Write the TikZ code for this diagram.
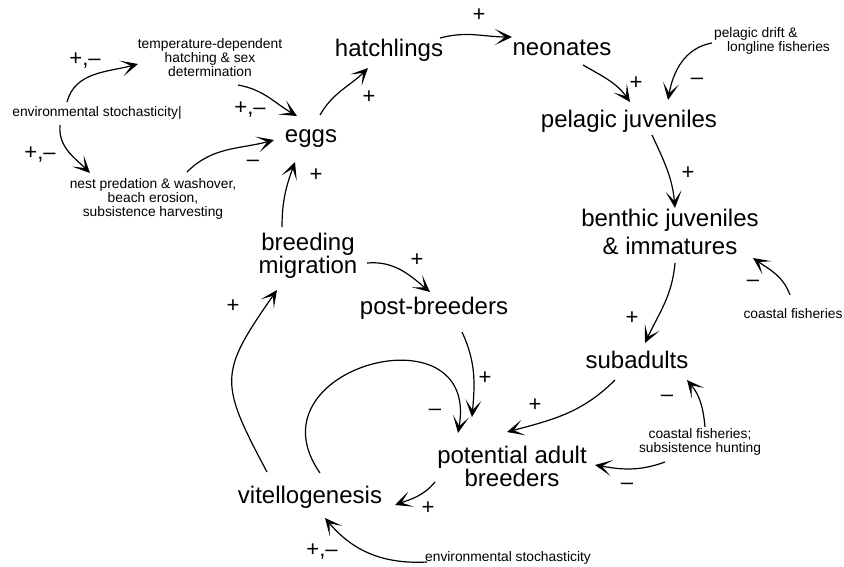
\documentclass[tikz,border=0pt]{standalone}
\usepackage{fontspec}
\setmainfont{Liberation Sans}
\usepackage{tikz}
\usetikzlibrary{arrows.meta}
\tikzset{
  stage/.style={font=\fontsize{24}{23}\selectfont, align=center, inner sep=1pt},
  driver/.style={font=\fontsize{13.8}{14}\selectfont, align=center, inner sep=1pt},
  sign/.style={font=\fontsize{22}{22}\selectfont, inner sep=0pt},
  link/.style={-{Stealth[length=17pt, width=16pt, inset=10pt]}, line width=1.2pt}
}

\begin{document}
\begin{tikzpicture}[x=1pt, y=-1pt]
  \useasboundingbox (0,0) rectangle (844,566);
  \node[driver] (temp) at (210,58) {temperature-dependent\\hatching \& sex\\determination};
  \node[driver] (envA) at (97,113) {environmental stochasticity|};
  \node[driver] (nest) at (153,199) {nest predation \& washover,\\beach erosion,\\subsistence harvesting};
  \node[stage] (eggs) at (311,139) {eggs};
  \node[stage] (hatch) at (389,50) {hatchlings};
  \node[stage] (neon) at (562,48) {neonates};
  \node[driver, align=left] (drift) at (772,40.5) {pelagic drift \&\\\hspace*{13pt}longline fisheries};
  \node[stage] (pjuv) at (629,121) {pelagic juveniles};
  \node[stage] (bjuv) at (670,232) {benthic juveniles\\[5pt]\& immatures};
  \node[driver] (cfish) at (793,313.5) {coastal fisheries};
  \node[stage] (sub) at (637,359.5) {subadults};
  \node[driver] (cfs) at (700,442) {coastal fisheries;\\subsistence hunting};
  \node[stage] (pab) at (512,466) {potential adult\\breeders};
  \node[stage] (vit) at (310,497) {vitellogenesis};
  \node[driver] (envB) at (508,558) {environmental stochasticity};
  \node[stage] (breed) at (308,256) {breeding\\migration};
  \node[stage] (post) at (434,308) {post-breeders};

  \draw[link] ([shift={(-30,-11)}]envA.center) to[out=75, in=195] ([shift={(-72,6)}]temp.center);
  \draw[link] ([shift={(28,27)}]temp.center) to[out=-10, in=150] ([shift={(-14,-23)}]eggs.center);
  \draw[link] ([shift={(-37,12)}]envA.center) to[out=-95, in=135] ([shift={(-63,-26)}]nest.center);
  \draw[link] ([shift={(34,-27)}]nest.center) to[out=45, in=195] ([shift={(-37,1)}]eggs.center);
  \draw[link] ([shift={(-26,-29)}]breed.center) to[out=90, in=-110] ([shift={(-16,23)}]eggs.center);
  \draw[link] ([shift={(9,-24)}]eggs.center) to[out=60, in=225] ([shift={(-21,18)}]hatch.center);
  \draw[link] ([shift={(51,-12)}]hatch.center) to[out=15, in=180] ([shift={(-50,-11)}]neon.center);
  \draw[link] ([shift={(21,17)}]neon.center) to[out=-30, in=125] ([shift={(1,-19)}]pjuv.center);
  \draw[link] ([shift={(-60,2.5)}]drift.center) to[out=190, in=80] ([shift={(39,-21)}]pjuv.center);
  \draw[link] ([shift={(23,14)}]pjuv.center) to[out=-65, in=95] ([shift={(5,-24)}]bjuv.center);
  \draw[link] ([shift={(-3,-18.5)}]cfish.center) to[out=110, in=-35] ([shift={(83,26)}]bjuv.center);
  \draw[link] ([shift={(5,31)}]bjuv.center) to[out=-95, in=65] ([shift={(8,-16.5)}]sub.center);
  \draw[link] ([shift={(-22,20.5)}]sub.center) to[out=-135, in=15] ([shift={(-5,-34)}]pab.center);
  \draw[link] ([shift={(5,-15)}]cfs.center) to[out=95, in=-50] ([shift={(50,20.5)}]sub.center);
  \draw[link] ([shift={(-35,20)}]cfs.center) to[out=200, in=-10] ([shift={(83,-1)}]pab.center);
  \draw[link] ([shift={(28,24)}]post.center) to[out=-65, in=85] ([shift={(-40,-49)}]pab.center);
  \draw[link] ([shift={(10,-24)}]vit.center) to[out=125, in=80, looseness=2.3] ([shift={(-54,-33)}]pab.center);
  \draw[link] ([shift={(-43,-25)}]vit.center) to[out=118, in=235, looseness=1.43] ([shift={(-31,34)}]breed.center);
  \draw[link] ([shift={(59,7)}]breed.center) to[out=5, in=140] ([shift={(-4,-16)}]post.center);
  \draw[link] ([shift={(-77,16)}]pab.center) to[out=-130, in=20] ([shift={(85,8)}]vit.center);
  \draw[link] ([shift={(-81,4)}]envB.center) to[out=183, in=-50] ([shift={(15,21)}]vit.center);

  \node[sign] (sg1) at (85,61) {+,–};
  \node[sign] (sg2) at (250,110) {+,–};
  \node[sign] (sg3) at (40,155) {+,–};
  \node[sign] (sg4) at (253,163) {–};
  \node[sign] (sg5) at (369,97) {+};
  \node[sign] (sg6) at (316,175) {+};
  \node[sign] (sg7) at (479,15) {+};
  \node[sign] (sg8) at (636,83) {+};
  \node[sign] (sg9) at (697,81) {–};
  \node[sign] (sg10) at (688,173) {+};
  \node[sign] (sg11) at (753,283) {–};
  \node[sign] (sg12) at (632,318) {+};
  \node[sign] (sg13) at (667,398) {–};
  \node[sign] (sg14) at (535,405) {+};
  \node[sign] (sg15) at (435,412) {–};
  \node[sign] (sg16) at (485,378) {+};
  \node[sign] (sg17) at (417,260) {+};
  \node[sign] (sg18) at (233,306) {+};
  \node[sign] (sg19) at (428,508) {+};
  \node[sign] (sg20) at (322,552) {+,–};
  \node[sign] (sg21) at (627,486) {–};
\end{tikzpicture}
\end{document}
